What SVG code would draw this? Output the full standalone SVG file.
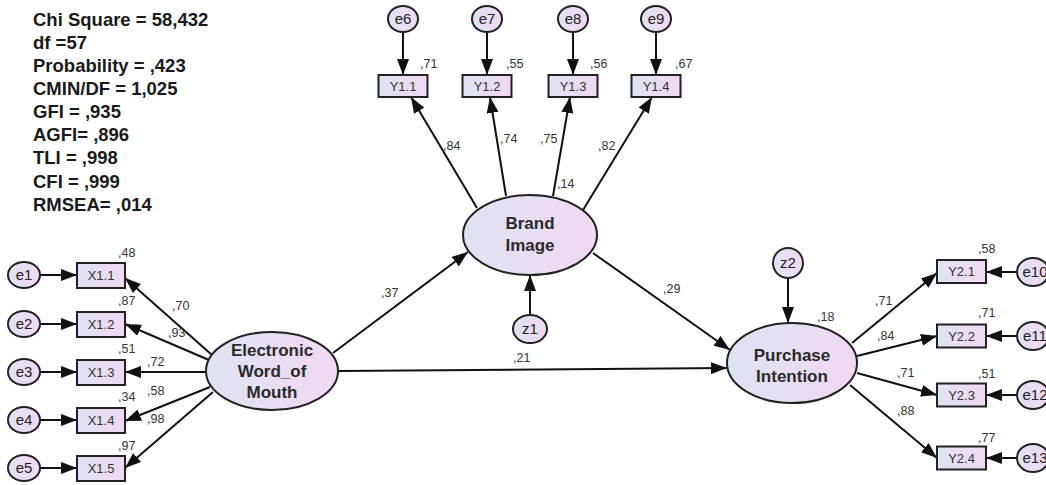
<svg xmlns="http://www.w3.org/2000/svg" width="1046" height="485" viewBox="0 0 1046 485">
<defs>
<linearGradient id="g" x1="0" y1="0" x2="1" y2="0">
<stop offset="0" stop-color="#dfe3f1"/>
<stop offset="1" stop-color="#f0d9f1"/>
</linearGradient>
<marker id="ah" markerUnits="userSpaceOnUse" markerWidth="16" markerHeight="12" refX="16" refY="6" orient="auto">
<path d="M0,0 L16,6 L0,12 Z" fill="#111"/>
</marker>
<style>
.nd{fill:url(#g);stroke:#222;stroke-width:2}
.cn line{stroke:#111;stroke-width:2;marker-end:url(#ah)}
.st{font-family:"Liberation Sans",Arial,sans-serif;font-weight:bold;font-size:18.5px;fill:#1a1a1a}
.lv{font-family:"Liberation Sans",Arial,sans-serif;font-weight:bold;font-size:17px;fill:#2a2a2a;text-anchor:middle}
.bx{font-family:"Liberation Sans",Arial,sans-serif;font-size:13px;fill:#333;text-anchor:middle}
.er{font-family:"Liberation Sans",Arial,sans-serif;font-size:15px;fill:#222;text-anchor:middle}
.co{font-family:"Liberation Sans",Arial,sans-serif;font-size:12.5px;fill:#333}
</style>
</defs>
<rect width="1046" height="485" fill="#fff"/>

<g id="stats" class="st">
<text x="33" y="26">Chi Square = 58,432</text>
<text x="33" y="49">df =57</text>
<text x="33" y="72">Probability = ,423</text>
<text x="33" y="95">CMIN/DF = 1,025</text>
<text x="33" y="118">GFI = ,935</text>
<text x="33" y="141">AGFI= ,896</text>
<text x="33" y="164">TLI = ,998</text>
<text x="33" y="188">CFI = ,999</text>
<text x="33" y="211">RMSEA= ,014</text>
</g>

<g id="connectors" class="cn">
<line x1="403" y1="32" x2="403" y2="75"/>
<line x1="487" y1="32" x2="487" y2="75"/>
<line x1="573" y1="32" x2="573" y2="75"/>
<line x1="656" y1="32" x2="656" y2="75"/>
<line x1="477" y1="208" x2="411" y2="97"/>
<line x1="506" y1="196" x2="490" y2="97"/>
<line x1="553" y1="196" x2="570" y2="97"/>
<line x1="583" y1="210" x2="652" y2="97"/>
<line x1="530" y1="315" x2="530" y2="275"/>
<line x1="40" y1="275" x2="77" y2="275"/>
<line x1="40" y1="324" x2="77" y2="324"/>
<line x1="40" y1="372" x2="77" y2="372"/>
<line x1="40" y1="420" x2="77" y2="420"/>
<line x1="40" y1="468" x2="77" y2="468"/>
<line x1="212" y1="355" x2="125" y2="278"/>
<line x1="209" y1="360" x2="125" y2="324"/>
<line x1="206" y1="372" x2="125" y2="372"/>
<line x1="210" y1="387" x2="125" y2="421"/>
<line x1="213" y1="392" x2="125" y2="468"/>
<line x1="333" y1="353" x2="468" y2="252"/>
<line x1="338" y1="371" x2="727" y2="368"/>
<line x1="593" y1="253" x2="730" y2="350"/>
<line x1="788" y1="278" x2="788" y2="323"/>
<line x1="852" y1="343" x2="937" y2="273"/>
<line x1="857" y1="356" x2="937" y2="336"/>
<line x1="857" y1="373" x2="937" y2="395"/>
<line x1="850" y1="385" x2="937" y2="458"/>
<line x1="1017" y1="272" x2="986" y2="272"/>
<line x1="1017" y1="336" x2="986" y2="336"/>
<line x1="1017" y1="395" x2="986" y2="395"/>
<line x1="1017" y1="458" x2="986" y2="458"/>
</g>

<g id="BrandImage"><ellipse class="nd" cx="530" cy="235" rx="67" ry="40"/><text class="lv" x="530" y="229">Brand</text><text class="lv" x="530" y="251">Image</text></g>
<g id="EWOM"><ellipse class="nd" cx="272" cy="371" rx="66" ry="39"/><text class="lv" x="272" y="356">Electronic</text><text class="lv" x="272" y="377">Word_of</text><text class="lv" x="272" y="398">Mouth</text></g>
<g id="PurchaseIntention"><ellipse class="nd" cx="792" cy="363" rx="65" ry="40"/><text class="lv" x="792" y="361">Purchase</text><text class="lv" x="792" y="382">Intention</text></g>

<g id="z1"><ellipse class="nd" cx="530" cy="329" rx="17" ry="14"/><text class="er" x="530" y="334">z1</text></g>
<g id="z2"><ellipse class="nd" cx="788" cy="263" rx="15" ry="15"/><text class="er" x="788" y="268">z2</text></g>

<g id="e6"><ellipse class="nd" cx="403" cy="19" rx="15" ry="13"/><text class="er" x="403" y="24">e6</text></g>
<g id="e7"><ellipse class="nd" cx="487" cy="19" rx="15" ry="13"/><text class="er" x="487" y="24">e7</text></g>
<g id="e8"><ellipse class="nd" cx="573" cy="19" rx="15" ry="13"/><text class="er" x="573" y="24">e8</text></g>
<g id="e9"><ellipse class="nd" cx="656" cy="19" rx="15" ry="13"/><text class="er" x="656" y="24">e9</text></g>
<g id="Y1.1"><rect class="nd" x="378.5" y="75" width="49" height="22"/><text class="bx" x="403" y="91">Y1.1</text></g>
<g id="Y1.2"><rect class="nd" x="462.5" y="75" width="49" height="22"/><text class="bx" x="487" y="91">Y1.2</text></g>
<g id="Y1.3"><rect class="nd" x="548.5" y="75" width="49" height="22"/><text class="bx" x="573" y="91">Y1.3</text></g>
<g id="Y1.4"><rect class="nd" x="631.5" y="75" width="49" height="22"/><text class="bx" x="656" y="91">Y1.4</text></g>

<g id="e1"><ellipse class="nd" cx="24" cy="275" rx="16" ry="13"/><text class="er" x="24" y="280">e1</text></g>
<g id="e2"><ellipse class="nd" cx="24" cy="324" rx="16" ry="13"/><text class="er" x="24" y="329">e2</text></g>
<g id="e3"><ellipse class="nd" cx="24" cy="372" rx="16" ry="13"/><text class="er" x="24" y="377">e3</text></g>
<g id="e4"><ellipse class="nd" cx="24" cy="420" rx="16" ry="13"/><text class="er" x="24" y="425">e4</text></g>
<g id="e5"><ellipse class="nd" cx="24" cy="468" rx="16" ry="13"/><text class="er" x="24" y="473">e5</text></g>
<g id="X1.1"><rect class="nd" x="77" y="263" width="48" height="25"/><text class="bx" x="101" y="280">X1.1</text></g>
<g id="X1.2"><rect class="nd" x="77" y="312" width="48" height="25"/><text class="bx" x="101" y="329">X1.2</text></g>
<g id="X1.3"><rect class="nd" x="77" y="360" width="48" height="25"/><text class="bx" x="101" y="377">X1.3</text></g>
<g id="X1.4"><rect class="nd" x="77" y="408" width="48" height="25"/><text class="bx" x="101" y="425">X1.4</text></g>
<g id="X1.5"><rect class="nd" x="77" y="456" width="48" height="25"/><text class="bx" x="101" y="473">X1.5</text></g>

<g id="Y2.1"><rect class="nd" x="937" y="260" width="49" height="23"/><text class="bx" x="961.5" y="276">Y2.1</text></g>
<g id="Y2.2"><rect class="nd" x="937" y="324.5" width="49" height="23"/><text class="bx" x="961.5" y="340.5">Y2.2</text></g>
<g id="Y2.3"><rect class="nd" x="937" y="383.5" width="49" height="23"/><text class="bx" x="961.5" y="399.5">Y2.3</text></g>
<g id="Y2.4"><rect class="nd" x="937" y="446.5" width="49" height="23"/><text class="bx" x="961.5" y="462.5">Y2.4</text></g>
<g id="e10"><ellipse class="nd" cx="1033" cy="272" rx="16" ry="14"/><text class="er" x="1035" y="277">e10</text></g>
<g id="e11"><ellipse class="nd" cx="1033" cy="336" rx="16" ry="14"/><text class="er" x="1035" y="341">e11</text></g>
<g id="e12"><ellipse class="nd" cx="1033" cy="395" rx="16" ry="14"/><text class="er" x="1035" y="400">e12</text></g>
<g id="e13"><ellipse class="nd" cx="1033" cy="458" rx="16" ry="14"/><text class="er" x="1035" y="463">e13</text></g>

<g id="coefficients" class="co">
<text x="420" y="68">,71</text>
<text x="506" y="68">,55</text>
<text x="590" y="68">,56</text>
<text x="675" y="68">,67</text>
<text x="443" y="150">,84</text>
<text x="500" y="143">,74</text>
<text x="540" y="143">,75</text>
<text x="598" y="150">,82</text>
<text x="557" y="188">,14</text>
<text x="381" y="297">,37</text>
<text x="663" y="293">,29</text>
<text x="513" y="362">,21</text>
<text x="118" y="257">,48</text>
<text x="118" y="305">,87</text>
<text x="118" y="353">,51</text>
<text x="118" y="401">,34</text>
<text x="118" y="450">,97</text>
<text x="172" y="310">,70</text>
<text x="168" y="337">,93</text>
<text x="147" y="366">,72</text>
<text x="147" y="395">,58</text>
<text x="147" y="423">,98</text>
<text x="817" y="321">,18</text>
<text x="875" y="305">,71</text>
<text x="877" y="340">,84</text>
<text x="897" y="377">,71</text>
<text x="897" y="415">,88</text>
<text x="978" y="253">,58</text>
<text x="978" y="317">,71</text>
<text x="978" y="378">,51</text>
<text x="978" y="442">,77</text>
</g>
</svg>
